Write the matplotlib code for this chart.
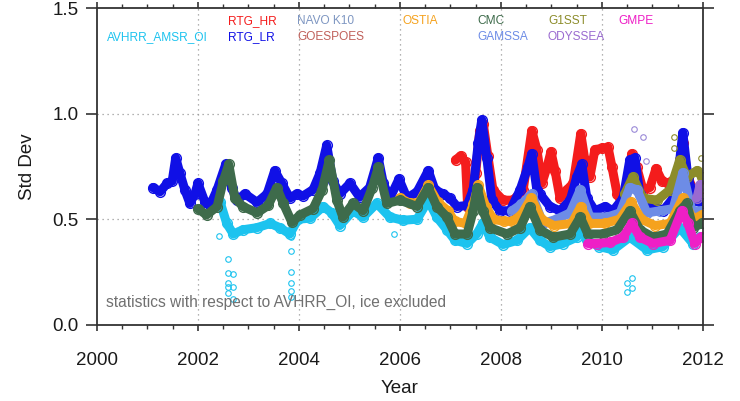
import matplotlib
matplotlib.use("Agg")
import matplotlib.pyplot as plt

plt.rcParams['font.family'] = ['Liberation Sans', 'DejaVu Sans']

# ---- data (year, std dev) ----
rtg_lr_yr = [2001.11, 2001.25, 2001.39, 2001.49, 2001.56, 2001.64, 2001.74, 2001.84, 2001.94, 2002.0,
             2002.14, 2002.24, 2002.38, 2002.55, 2002.67, 2002.77, 2002.93, 2003.17, 2003.37, 2003.52,
             2003.66, 2003.82, 2003.96, 2004.08, 2004.28, 2004.42, 2004.55, 2004.67, 2004.81, 2005.01,
             2005.2, 2005.4, 2005.57, 2005.67, 2005.8, 2005.98, 2006.14, 2006.34, 2006.56, 2006.69,
             2006.85, 2006.99, 2007.13, 2007.33, 2007.45, 2007.55, 2007.62, 2007.72, 2007.82, 2007.98,
             2008.18, 2008.38, 2008.53, 2008.61, 2008.71, 2008.77, 2008.97, 2009.17, 2009.37, 2009.5,
             2009.6, 2009.7, 2009.86, 2010.06, 2010.22, 2010.42, 2010.55, 2010.65, 2010.75, 2010.95,
             2011.21, 2011.41, 2011.54, 2011.6, 2011.7, 2011.84, 2011.98]
rtg_lr = [0.65, 0.63, 0.67, 0.68, 0.79, 0.72, 0.64, 0.575, 0.62, 0.67,
          0.58, 0.565, 0.64, 0.76, 0.65, 0.59, 0.62, 0.58, 0.62, 0.73,
          0.67, 0.60, 0.62, 0.61, 0.64, 0.72, 0.85, 0.68, 0.62, 0.67,
          0.605, 0.65, 0.79, 0.67, 0.60, 0.69, 0.60, 0.63, 0.73, 0.64,
          0.62, 0.60, 0.56, 0.565, 0.64, 0.86, 0.97, 0.79, 0.59, 0.54,
          0.54, 0.64, 0.745, 0.81, 0.64, 0.62, 0.56, 0.54, 0.59, 0.70,
          0.76, 0.60, 0.54, 0.56, 0.54, 0.60, 0.78, 0.79, 0.62, 0.575,
          0.54, 0.60, 0.78, 0.91, 0.70, 0.59, 0.575]

rtg_hr_yr = [2007.1, 2007.2, 2007.3, 2007.34, 2007.42, 2007.5, 2007.58, 2007.65, 2007.74, 2007.84,
             2008.04, 2008.24, 2008.44, 2008.61, 2008.71, 2008.81, 2008.91, 2008.99, 2009.07, 2009.17,
             2009.31, 2009.43, 2009.58, 2009.66, 2009.76, 2009.86, 2010.0, 2010.12, 2010.2, 2010.3,
             2010.4, 2010.52, 2010.59, 2010.69, 2010.81, 2010.95, 2011.07, 2011.19, 2011.31, 2011.49,
             2011.6, 2011.7, 2011.84, 2011.98]
rtg_hr = [0.78, 0.80, 0.77, 0.56, 0.60, 0.72, 0.92, 0.95, 0.80, 0.64,
          0.59, 0.59, 0.64, 0.92, 0.83, 0.67, 0.745, 0.82, 0.73, 0.60,
          0.64, 0.67, 0.905, 0.78, 0.70, 0.83, 0.835, 0.84, 0.745, 0.62,
          0.575, 0.70, 0.81, 0.745, 0.64, 0.65, 0.74, 0.68, 0.67, 0.70,
          0.86, 0.70, 0.62, 0.65]

avhrr_amsr_yr = [2002.44, 2002.57, 2002.7, 2002.89, 2003.17, 2003.43, 2003.62, 2003.82, 2003.98, 2004.22,
                 2004.48, 2004.65, 2004.81, 2005.07, 2005.27, 2005.54, 2005.8, 2006.06, 2006.34, 2006.56,
                 2006.73, 2006.93, 2007.09, 2007.33, 2007.52, 2007.64, 2007.78, 2008.04, 2008.32, 2008.57,
                 2008.77, 2008.97, 2009.23, 2009.5, 2009.6, 2009.7, 2009.95, 2010.22, 2010.55, 2010.89,
                 2011.21, 2011.54, 2011.8, 2011.95]
avhrr_amsr = [0.58, 0.48, 0.43, 0.45, 0.46, 0.48, 0.46, 0.43, 0.50, 0.505,
              0.56, 0.53, 0.47, 0.54, 0.51, 0.575, 0.51, 0.495, 0.50, 0.59,
              0.51, 0.45, 0.40, 0.385, 0.43, 0.48, 0.415, 0.38, 0.40, 0.46,
              0.40, 0.37, 0.385, 0.415, 0.46, 0.40, 0.37, 0.355, 0.415, 0.355,
              0.37, 0.46, 0.385, 0.415]

cmc_yr = [2002.0, 2002.17, 2002.38, 2002.5, 2002.61, 2002.73, 2002.89, 2003.17, 2003.39, 2003.56,
          2003.69, 2003.86, 2004.02, 2004.28, 2004.46, 2004.6, 2004.75, 2004.87, 2005.07, 2005.27,
          2005.45, 2005.57, 2005.74, 2006.0, 2006.34, 2006.56, 2006.73, 2006.93, 2007.09, 2007.33,
          2007.45, 2007.53, 2007.64, 2007.78, 2008.12, 2008.38, 2008.57, 2008.77, 2009.03, 2009.37,
          2009.57, 2009.72, 2010.02, 2010.3, 2010.55, 2010.75, 2011.01, 2011.29, 2011.54, 2011.68,
          2011.8, 2011.98]
cmc = [0.55, 0.52, 0.56, 0.68, 0.76, 0.60, 0.56, 0.53, 0.565, 0.65,
       0.575, 0.485, 0.52, 0.55, 0.64, 0.78, 0.59, 0.51, 0.575, 0.54,
       0.65, 0.745, 0.575, 0.59, 0.56, 0.65, 0.56, 0.51, 0.43, 0.43,
       0.54, 0.65, 0.54, 0.46, 0.43, 0.46, 0.56, 0.45, 0.415, 0.43,
       0.51, 0.43, 0.43, 0.45, 0.54, 0.45, 0.415, 0.43, 0.54, 0.575,
       0.46, 0.48]

ostia_yr = [2006.0, 2006.2, 2006.38, 2006.56, 2006.75, 2006.95, 2007.08, 2007.3, 2007.45, 2007.55,
            2007.7, 2007.85, 2008.05, 2008.22, 2008.4, 2008.6, 2008.8, 2009.05, 2009.4, 2009.58,
            2009.75, 2010.05, 2010.35, 2010.58, 2010.78, 2011.05, 2011.35, 2011.6, 2011.8, 2011.98]
ostia = [0.60, 0.575, 0.58, 0.66, 0.58, 0.54, 0.49, 0.48, 0.57, 0.66,
         0.56, 0.50, 0.49, 0.49, 0.52, 0.60, 0.50, 0.47, 0.48, 0.56,
         0.48, 0.48, 0.50, 0.58, 0.50, 0.47, 0.48, 0.60, 0.50, 0.52]

gamssa_yr = [2008.22, 2008.4, 2008.61, 2008.83, 2009.1, 2009.37, 2009.57, 2009.76, 2010.1, 2010.36,
             2010.55, 2010.69, 2010.89, 2011.15, 2011.41, 2011.6, 2011.78, 2011.98]
gamssa = [0.54, 0.57, 0.62, 0.48, 0.50, 0.53, 0.64, 0.51, 0.51, 0.53,
          0.65, 0.64, 0.53, 0.54, 0.55, 0.72, 0.54, 0.54]

gmpe_yr = [2009.72, 2009.9, 2010.16, 2010.42, 2010.59, 2010.75, 2011.01, 2011.35, 2011.58, 2011.7,
           2011.84, 2011.96]
gmpe = [0.385, 0.385, 0.39, 0.415, 0.48, 0.415, 0.385, 0.40, 0.54, 0.48,
        0.385, 0.415]

g1sst_yr = [2010.45, 2010.61, 2010.81, 2011.09, 2011.35, 2011.54, 2011.68, 2011.88, 2011.98]
g1sst = [0.62, 0.70, 0.60, 0.59, 0.64, 0.78, 0.70, 0.73, 0.70]

odyssea_yr = [2011.88, 2011.94, 2011.99]
odyssea = [0.60, 0.66, 0.62]

# stray points
cyan_out_yr = [2002.42, 2002.59, 2002.59, 2002.7, 2002.59, 2002.7, 2002.59, 2002.6, 2002.7,
               2003.84, 2003.84, 2003.84, 2003.84, 2003.84, 2003.84, 2005.88,
               2010.5, 2010.59, 2010.5, 2010.59]
cyan_out = [0.42, 0.31, 0.245, 0.24, 0.20, 0.18, 0.18, 0.15, 0.12,
            0.415, 0.35, 0.25, 0.20, 0.16, 0.13, 0.43,
            0.20, 0.22, 0.155, 0.175]
lav_out_yr = [2010.63, 2010.81, 2010.87]
lav_out = [0.925, 0.89, 0.775]
olive_out_yr = [2011.43, 2011.43, 2011.97]
olive_out = [0.89, 0.835, 0.79]

colors = {
    'AVHRR_AMSR_OI': '#1cc3ef', 'RTG_HR': '#f41c1c', 'RTG_LR': '#1010e6',
    'NAVO K10': '#7f97c2', 'GOESPOES': '#c0605a', 'OSTIA': '#f5a21e',
    'CMC': '#3e6b4b', 'G1SST': '#8c8c2a', 'GAMSSA': '#6d8ce6',
    'ODYSSEA': '#9a6ad0', 'GMPE': '#ee1fc6',
}

fig = plt.figure(figsize=(7.4, 4.01), dpi=100)
ax = fig.add_axes([0.131, 0.19, 0.819, 0.79])

def band(x, y, name):
    c = colors[name]
    ax.plot(x, y, '-', color=c, lw=6.5, solid_capstyle='round', solid_joinstyle='round')
    ax.plot(x, y, 'o', mfc='none', mec=c, ms=7, mew=1.0)

band(rtg_hr_yr, rtg_hr, 'RTG_HR')
band(rtg_lr_yr, rtg_lr, 'RTG_LR')
band(g1sst_yr, g1sst, 'G1SST')
band(gamssa_yr, gamssa, 'GAMSSA')
band(ostia_yr, ostia, 'OSTIA')
band(avhrr_amsr_yr, avhrr_amsr, 'AVHRR_AMSR_OI')
band(cmc_yr, cmc, 'CMC')
band(gmpe_yr, gmpe, 'GMPE')
band(odyssea_yr, odyssea, 'ODYSSEA')

ax.plot(cyan_out_yr, cyan_out, 'o', mfc='none', mec=colors['AVHRR_AMSR_OI'], ms=4, mew=0.8)
ax.plot(lav_out_yr, lav_out, 'o', mfc='none', mec='#9a8ad8', ms=4, mew=0.8)
ax.plot(olive_out_yr, olive_out, 'o', mfc='none', mec=colors['G1SST'], ms=4, mew=0.8)

ax.set_xlim(2000, 2012)
ax.set_ylim(0, 1.5)
ax.set_xticks(range(2000, 2013, 2))
ax.set_xticks([2000 + 0.5 * i for i in range(25)], minor=True)
ax.set_yticks([0.0, 0.5, 1.0, 1.5])
ax.set_yticklabels(['0.0', '0.5', '1.0', '1.5'])

for s in ax.spines.values():
    s.set_color('#333333')
    s.set_linewidth(1.3)

ax.tick_params(axis='x', which='major', direction='out', length=4.5, width=1.2,
               top=True, labelsize=13.5, pad=15, colors='#333333', labelcolor='#1a1a1a')
ax.tick_params(axis='x', which='minor', direction='out', length=3, width=1.0, top=True,
               colors='#333333')
ax.tick_params(axis='y', which='major', direction='out', length=8, width=1.2,
               right=True, labelsize=13.5, pad=5, colors='#333333', labelcolor='#1a1a1a')

for v in [2002, 2004, 2006, 2008, 2010]:
    ax.axvline(v, color='#999999', lw=0.9, ls=(0, (1, 3)), zorder=0)
for v in [0.5, 1.0]:
    ax.axhline(v, color='#999999', lw=0.9, ls=(0, (1, 3)), zorder=0)

ax.set_xlabel('Year', fontsize=13.5, labelpad=8, color='#1a1a1a')
ax.set_ylabel('Std Dev', fontsize=13.5, labelpad=12, color='#1a1a1a')

# legend as coloured names
row1, row2 = 1.44, 1.363
labels = [('AVHRR_AMSR_OI', 2000.2, row2),
          ('RTG_HR', 2002.6, row1), ('RTG_LR', 2002.6, row2),
          ('NAVO K10', 2003.97, row1), ('GOESPOES', 2003.97, row2),
          ('OSTIA', 2006.05, row1),
          ('CMC', 2007.54, row1), ('GAMSSA', 2007.54, row2),
          ('G1SST', 2008.93, row1), ('ODYSSEA', 2008.93, row2),
          ('GMPE', 2010.32, row1)]
for name, x, y in labels:
    ax.text(x, y, name, color=colors[name], fontsize=8.6, ha='left', va='center')

ax.text(2000.18, 0.105, 'statistics with respect to AVHRR_OI, ice excluded',
        color='#707070', fontsize=11.2, ha='left', va='center')

fig.savefig('out.png', dpi=100)
